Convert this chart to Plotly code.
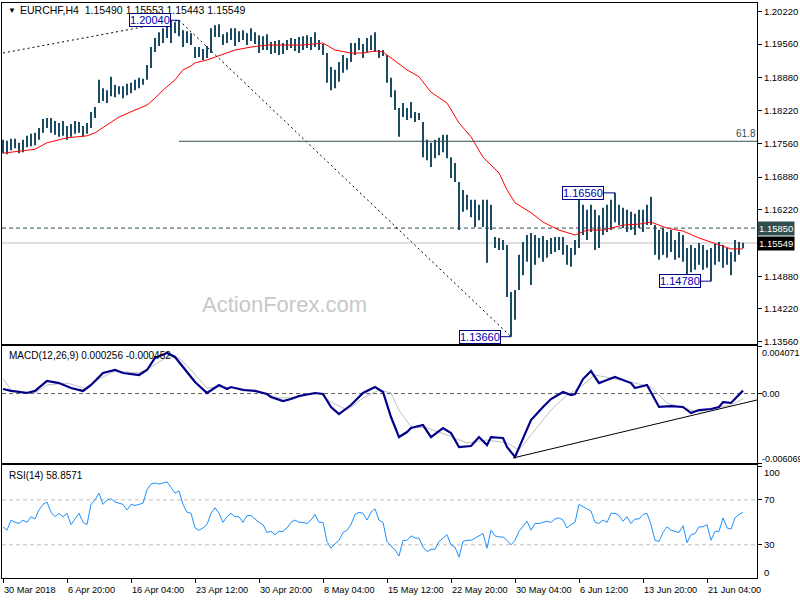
import plotly.graph_objects as go

# ---------------- data ----------------
header_text = "EURCHF,H4  1.15490 1.15553 1.15443 1.15549"
macd_text = "MACD(12,26,9) 0.000256 -0.000452"
rsi_text = "RSI(14) 58.8571"

date_ticks = [0, 16, 32, 48, 64, 80, 96, 112, 128, 144, 160, 176]
date_labels = ["30 Mar 2018", "6 Apr 20:00", "16 Apr 04:00", "23 Apr 12:00", "30 Apr 20:00",
               "8 May 04:00", "15 May 12:00", "22 May 20:00", "30 May 04:00", "6 Jun 12:00",
               "13 Jun 20:00", "21 Jun 04:00"]

price_ticks = [1.2022, 1.1956, 1.1888, 1.1822, 1.1756, 1.1688, 1.1622, 1.1488, 1.1422, 1.1356]

high = [1.1763,1.1761,1.1765,1.1765,1.1757,1.1763,1.1771,1.1775,1.1777,1.1787,
        1.1805,1.1807,1.1807,1.1801,1.1797,1.1801,1.1791,1.1795,1.1801,1.1799,
        1.1791,1.1797,1.1819,1.1829,1.1884,1.1867,1.1863,1.1890,1.1874,1.1871,
        1.1871,1.1876,1.1878,1.1884,1.1888,1.1886,1.1914,1.1950,1.1968,1.1980,
        1.1988,1.1992,1.2000,1.2000,1.2004,1.1984,1.1982,1.1978,1.1950,1.1950,
        1.1946,1.1952,1.1988,1.1994,1.1996,1.1976,1.1980,1.1988,1.1988,1.1982,
        1.1984,1.1978,1.1988,1.1980,1.1974,1.1972,1.1976,1.1960,1.1962,1.1964,
        1.1958,1.1964,1.1968,1.1966,1.1970,1.1972,1.1974,1.1970,1.1980,1.1964,
        1.1956,1.1938,1.1910,1.1904,1.1920,1.1934,1.1928,1.1958,1.1958,1.1968,
        1.1956,1.1968,1.1974,1.1980,1.1944,1.1944,1.1934,1.1888,1.1863,1.1827,
        1.1837,1.1827,1.1839,1.1819,1.1817,1.1799,1.1763,1.1757,1.1763,1.1767,
        1.1773,1.1773,1.1728,1.1716,1.1678,1.1662,1.1652,1.1642,1.1642,1.1632,
        1.1642,1.1642,1.1632,1.1567,1.1565,1.1561,1.1551,1.1456,1.1460,1.1531,
        1.1557,1.1571,1.1575,1.1571,1.1565,1.1569,1.1561,1.1565,1.1567,1.1567,
        1.1567,1.1551,1.1545,1.1561,1.1642,1.1632,1.1622,1.1632,1.1622,1.1611,
        1.1626,1.1632,1.1642,1.1656,1.1632,1.1626,1.1622,1.1618,1.1614,1.1622,
        1.1622,1.1632,1.1648,1.1591,1.1581,1.1585,1.1577,1.1581,1.1561,1.1577,
        1.1571,1.1545,1.1551,1.1545,1.1555,1.1551,1.1541,1.1545,1.1553,1.1557,
        1.1551,1.1545,1.1537,1.1561,1.1557,1.15553]

low = [1.1736,1.1734,1.1742,1.1746,1.1736,1.1738,1.1748,1.1750,1.1752,1.1763,
       1.1777,1.1787,1.1777,1.1773,1.1769,1.1771,1.1763,1.1769,1.1775,1.1777,
       1.1769,1.1775,1.1787,1.1807,1.1837,1.1841,1.1837,1.1851,1.1849,1.1855,
       1.1847,1.1853,1.1857,1.1863,1.1867,1.1874,1.1884,1.1908,1.1940,1.1952,
       1.1958,1.1968,1.1958,1.1978,1.1972,1.1950,1.1958,1.1954,1.1928,1.1930,
       1.1924,1.1928,1.1938,1.1970,1.1970,1.1954,1.1958,1.1964,1.1952,1.1960,
       1.1964,1.1954,1.1962,1.1956,1.1938,1.1944,1.1944,1.1936,1.1938,1.1934,
       1.1936,1.1944,1.1948,1.1942,1.1938,1.1944,1.1948,1.1944,1.1950,1.1944,
       1.1934,1.1878,1.1863,1.1867,1.1880,1.1898,1.1904,1.1920,1.1934,1.1944,
       1.1928,1.1940,1.1944,1.1940,1.1928,1.1932,1.1878,1.1849,1.1823,1.1769,
       1.1809,1.1803,1.1807,1.1799,1.1803,1.1728,1.1722,1.1708,1.1726,1.1732,
       1.1738,1.1726,1.1686,1.1678,1.1581,1.1618,1.1622,1.1607,1.1587,1.1601,
       1.1587,1.1515,1.1581,1.1545,1.1541,1.1541,1.1446,1.1366,1.1400,1.1460,
       1.1490,1.1517,1.1470,1.1511,1.1525,1.1517,1.1525,1.1533,1.1537,1.1541,
       1.1531,1.1511,1.1507,1.1531,1.1545,1.1571,1.1561,1.1577,1.1541,1.1545,
       1.1571,1.1577,1.1581,1.1597,1.1591,1.1585,1.1577,1.1581,1.1571,1.1585,
       1.1577,1.1591,1.1591,1.1531,1.1521,1.1531,1.1525,1.1537,1.1521,1.1525,
       1.1517,1.1490,1.1496,1.1501,1.1511,1.1501,1.1505,1.1478,1.1511,1.1517,
       1.1505,1.1511,1.1490,1.1517,1.1531,1.15443]

ma_idx = [0,8,11,16,21,23,26,29,33,36,38,40,43,45,47,48,51,55,58,62,
          66,70,75,80,83,87,90,93,95,97,101,104,107,111,114,117,120,124,126,128,
          132,135,139,143,146,150,155,159,162,166,170,174,177,180,182,185]
ma_val = [1.1736,1.1744,1.1757,1.1767,1.1771,1.1777,1.1793,1.1809,1.1823,1.1833,
          1.1847,1.1863,1.1884,1.1904,1.1912,1.1918,1.1924,1.1936,1.1944,1.1950,
          1.1954,1.1954,1.1954,1.1958,1.1944,1.1938,1.1938,1.1942,1.1940,1.1928,
          1.1904,1.1890,1.1859,1.1837,1.1797,1.1769,1.1728,1.1696,1.1662,1.1636,
          1.1616,1.1597,1.1581,1.1571,1.1581,1.1581,1.1591,1.1593,1.1597,1.1585,
          1.1579,1.1565,1.1557,1.1549,1.1543,1.1543]

macd_idx = [0,2,6,8,11,14,17,20,22,25,28,30,34,36,38,41,43,45,48,51,
            54,56,57,60,63,66,67,70,72,74,78,80,82,84,87,90,93,95,97,99,
            101,102,105,107,110,112,114,117,119,121,122,125,126,128,130,132,135,137,140,142,
            143,145,147,149,151,153,157,158,161,164,167,170,172,174,177,179,180,182,185]
macd_val = [0.00040,0.00023,0.00005,0.00023,0.00110,0.00092,0.00049,0.00023,0.00075,0.00180,
            0.00206,0.00180,0.00162,0.00206,0.00311,0.00355,0.00320,0.00232,0.00101,0.00005,
            0.00075,0.00040,0.00057,0.00031,0.00023,-0.00004,-0.00030,-0.00065,-0.00048,-0.00021,
            0.00005,-0.00004,-0.00117,-0.00179,-0.00100,0.00005,0.00057,0.00014,-0.00205,-0.00380,
            -0.00336,-0.00301,-0.00275,-0.00380,-0.00301,-0.00345,-0.00467,-0.00458,-0.00380,-0.00450,
            -0.00380,-0.00388,-0.00467,-0.00554,-0.00388,-0.00231,-0.00117,-0.00048,0.00014,-0.00013,
            -0.00004,0.00127,0.00197,0.00092,0.00119,0.00145,0.00092,0.00049,0.00075,-0.00117,
            -0.00109,-0.00117,-0.00170,-0.00144,-0.00135,-0.00117,-0.00074,-0.00082,0.000256]

sig_idx = [0,2,8,11,16,21,24,28,34,37,41,44,47,51,54,59,64,69,74,79,
           82,86,90,94,97,99,102,106,111,116,121,126,129,133,137,141,144,148,152,157,
           162,166,170,174,178,182,185]
sig_val = [0.00130,0.00031,0.00005,0.00075,0.00092,0.00040,0.00127,0.00197,0.00180,0.00232,
           0.00320,0.00311,0.00206,0.00049,0.00057,0.00049,0.00014,-0.00039,-0.00030,0.00005,
           -0.00074,-0.00144,-0.00039,0.00031,0.00005,-0.00144,-0.00292,-0.00301,-0.00362,-0.00432,
           -0.00406,-0.00432,-0.00493,-0.00318,-0.00144,-0.00013,0.00049,0.00162,0.00136,0.00101,
           0.00057,-0.00082,-0.00126,-0.00161,-0.00126,-0.00100,-0.000452]

rsi = [46,43,52,50,49,52,50,55,53,61,
       66,68,59,55,58,55,58,48,53,58,
       50,48,66,70,76,66,70,71,68,67,
       66,61,66,65,66,67,79,84,85,84,
       85,86,81,76,78,66,59,58,45,43,
       45,48,58,63,58,50,55,58,55,55,
       50,56,56,53,50,48,41,42,39,42,
       42,45,50,52,50,50,49,52,57,50,
       50,33,27,31,34,41,43,48,57,59,
       58,52,59,62,52,50,33,29,25.6,20,
       34,34,38,36,36,28,24,26,26,33,
       36,39,30,28,19,33,34,34,36,38,
       40,27,43,38,37,37,34,30,34,42,
       46,51,43,49,49,50,51,50,53,54,
       52,45,48,50,66,64,62,60,50,49,
       52,50,58,58,56,51,55,49,53,53,
       57,58,48,34,33,41,46,43,42,41,
       47,32,39,40,46,46,48,34,42,42,
       54,45,44,54,57,58.8571]

# swing labels: (bar index, price, label offset in px)
swing_idx = [44, 153, 127, 177]
swing_price = [1.20040, 1.16560, 1.13660, 1.14780]
swing_offset = [-29, -32, -31, -31]

# drawn objects
up_trend = [(0, 1.1938), (44, 1.2004)]
down_trend = [(44, 1.2004), (127, 1.1366)]
fib_level = 1.1760
fib_text = "61.8"
resist_level = 1.15850
bid_level = 1.15549
macd_trend = [(127.5, -0.00563), (188.5, -0.00056)]
macd_levels = [0.004071, 0.0, -0.006069]
macd_level_text = ["0.004071", "0.00", "-0.006069"]
rsi_levels = [100, 70, 30, 0]

# ---------------- figure ----------------
XMIN, XMAX = -0.25, 188.5
MACD_RANGE = [-0.006068, 0.004158]
RSI_RANGE = [0.5, 101]
FONT = "Liberation Sans"
BAR_COLOR = "#1b4b63"
N = len(high)

fig = go.Figure()

bx, by = [], []
for i, (h, l) in enumerate(zip(high, low)):
    bx += [i, i, None]
    by += [l, h, None]

fig.add_trace(go.Scatter(x=bx, y=by, mode="lines", line=dict(color=BAR_COLOR, width=2),
                         xaxis="x", yaxis="y", hoverinfo="skip"))
fig.add_trace(go.Scatter(x=ma_idx, y=ma_val, mode="lines", line=dict(color="#ff0000", width=1),
                         xaxis="x", yaxis="y"))
fig.add_trace(go.Scatter(x=sig_idx, y=sig_val, mode="lines", line=dict(color="#c0c0c0", width=1),
                         xaxis="x2", yaxis="y2"))
fig.add_trace(go.Scatter(x=macd_idx, y=macd_val, mode="lines", line=dict(color="#00008b", width=2.2),
                         xaxis="x2", yaxis="y2"))
fig.add_trace(go.Scatter(x=list(range(N)), y=rsi, mode="lines", line=dict(color="#1e90ff", width=1),
                         xaxis="x3", yaxis="y3"))

shapes = []
for (p0, p1) in [up_trend, down_trend]:
    shapes.append(dict(type="line", xref="x", yref="y", x0=p0[0], y0=p0[1], x1=p1[0], y1=p1[1],
                       line=dict(color="black", width=1, dash="2px,3px")))
shapes.append(dict(type="line", xref="x", yref="y", x0=down_trend[0][0], x1=XMAX, y0=fib_level, y1=fib_level,
                   line=dict(color="#2f4f4f", width=1)))
shapes.append(dict(type="line", xref="x domain", yref="y", x0=0, x1=1, y0=resist_level, y1=resist_level,
                   line=dict(color="#2f4f4f", width=1, dash="4px,3px"), layer="below"))
shapes.append(dict(type="line", xref="x domain", yref="y", x0=0, x1=1, y0=bid_level, y1=bid_level,
                   line=dict(color="#c0c0c0", width=1), layer="below"))
shapes.append(dict(type="line", xref="x2 domain", yref="y2", x0=0, x1=1, y0=0, y1=0,
                   line=dict(color="#606060", width=1, dash="4px,3px"), layer="below"))
shapes.append(dict(type="line", xref="x2", yref="y2", x0=macd_trend[0][0], y0=macd_trend[0][1],
                   x1=macd_trend[1][0], y1=macd_trend[1][1], line=dict(color="black", width=1)))
for lv in (70, 30):
    shapes.append(dict(type="line", xref="x3 domain", yref="y3", x0=0, x1=1, y0=lv, y1=lv,
                       line=dict(color="#c0c0c0", width=1, dash="4px,3px"), layer="below"))

ann = []
# header
ann.append(dict(xref="paper", yref="paper", x=0, y=0.9878, xshift=4, xanchor="left", yanchor="middle",
                text="▼", showarrow=False, font=dict(size=8, color="black")))
ann.append(dict(xref="paper", yref="paper", x=0, y=0.9878, xshift=16, xanchor="left", yanchor="middle",
                text=header_text, showarrow=False, font=dict(size=10.5, color="black")))
ann.append(dict(xref="paper", yref="paper", x=0, y=0.3861, xshift=5, xanchor="left", yanchor="middle",
                text=macd_text, showarrow=False, font=dict(size=10, color="black")))
ann.append(dict(xref="paper", yref="paper", x=0, y=0.1791, xshift=5, xanchor="left", yanchor="middle",
                text=rsi_text, showarrow=False, font=dict(size=10, color="black")))
# watermark
ann.append(dict(xref="paper", yref="paper", x=0.3748, y=0.4748, xanchor="center", yanchor="middle",
                text="ActionForex.com", showarrow=False, font=dict(size=22, color="#c8c8c8")))
# fib text
ann.append(dict(xref="paper", yref="y", x=1, y=fib_level, xanchor="right", yanchor="bottom", xshift=1,
                text=fib_text, showarrow=False, font=dict(size=10, color="#2f4f4f")))
# swing labels
for i, p, off in zip(swing_idx, swing_price, swing_offset):
    ann.append(dict(xref="x", yref="y", x=i, y=p, text=f"{p:.5f}", showarrow=True, arrowhead=0,
                    arrowwidth=1, arrowcolor="#000080", ax=off, ay=0, standoff=0,
                    bgcolor="white", bordercolor="#000080", borderwidth=1, borderpad=0,
                    font=dict(size=11, color="#0000b0")))
# right side price markers
ann.append(dict(xref="paper", yref="y", x=1, y=resist_level, xanchor="left", yanchor="middle", xshift=0,
                text=f"{resist_level:.5f}", showarrow=False, bgcolor="#2f4f4f", borderpad=1,
                font=dict(size=9.5, color="white")))
ann.append(dict(xref="paper", yref="y", x=1, y=bid_level, xanchor="left", yanchor="middle", xshift=0,
                text=f"{bid_level:.5f}", showarrow=False, bgcolor="black", borderpad=1,
                font=dict(size=9.5, color="white")))
# MACD axis labels (anchored inside the axis range, shifted to the label position)
for v, t in zip(macd_levels, macd_level_text):
    yv = min(max(v, MACD_RANGE[0] + 0.0001), MACD_RANGE[1] - 0.0001)
    ys = {0.004071: -6, 0.0: 0}.get(v, 3)
    ann.append(dict(xref="paper", yref="y2", x=1, y=yv, xshift=3, yshift=ys, xanchor="left", yanchor="middle",
                    text=t, showarrow=False, font=dict(size=9, color="black")))
# RSI axis labels
for v, ys in zip(rsi_levels, [-6, 0, 0, 5]):
    yv = min(max(v, RSI_RANGE[0] + 0.5), RSI_RANGE[1])
    ann.append(dict(xref="paper", yref="y3", x=1, y=yv, xshift=5, yshift=ys, xanchor="left", yanchor="middle",
                    text=str(v), showarrow=False, font=dict(size=9.5, color="black")))
# date labels
for t, lab in zip(date_ticks, date_labels):
    ann.append(dict(xref="x3", yref="paper", x=t, y=-0.0209, xanchor="left", yanchor="middle", xshift=-1,
                    text=lab, showarrow=False, font=dict(size=9.2, color="black")))

frame = dict(showgrid=False, zeroline=False, showline=True, mirror=True, linecolor="black", linewidth=1)
xcommon = dict(range=[XMIN, XMAX], showticklabels=False, **frame)

fig.update_layout(
    width=800, height=600,
    margin=dict(l=2, r=43, t=3, b=22),
    paper_bgcolor="white", plot_bgcolor="white",
    showlegend=False,
    font=dict(family=FONT, size=10, color="black"),
    xaxis=dict(anchor="y", ticks="", **xcommon),
    xaxis2=dict(anchor="y2", ticks="", **xcommon),
    xaxis3=dict(anchor="y3", ticks="outside", ticklen=4, tickcolor="black", tickvals=date_ticks, **xcommon),
    yaxis=dict(domain=[0.40696, 1], range=[1.13513, 1.20388], side="right", anchor="x",
               tickvals=price_ticks, ticktext=[f"{v:.5f}" for v in price_ticks],
               ticks="outside", ticklen=4, tickcolor="black", tickfont=dict(size=9.5, color="black"), **frame),
    yaxis2=dict(domain=[0.2, 0.40348], range=MACD_RANGE, side="right", anchor="x2",
                tickvals=macd_levels, ticks="outside", ticklen=4, tickcolor="black", showticklabels=False, **frame),
    yaxis3=dict(domain=[0, 0.19652], range=RSI_RANGE, side="right", anchor="x3",
                tickvals=rsi_levels, ticks="outside", ticklen=4, tickcolor="black", showticklabels=False, **frame),
    shapes=shapes, annotations=ann,
)

fig.write_html("out.html", config={"displayModeBar": False},
               post_script="document.body.style.margin='0px';document.body.style.overflow='hidden';")
